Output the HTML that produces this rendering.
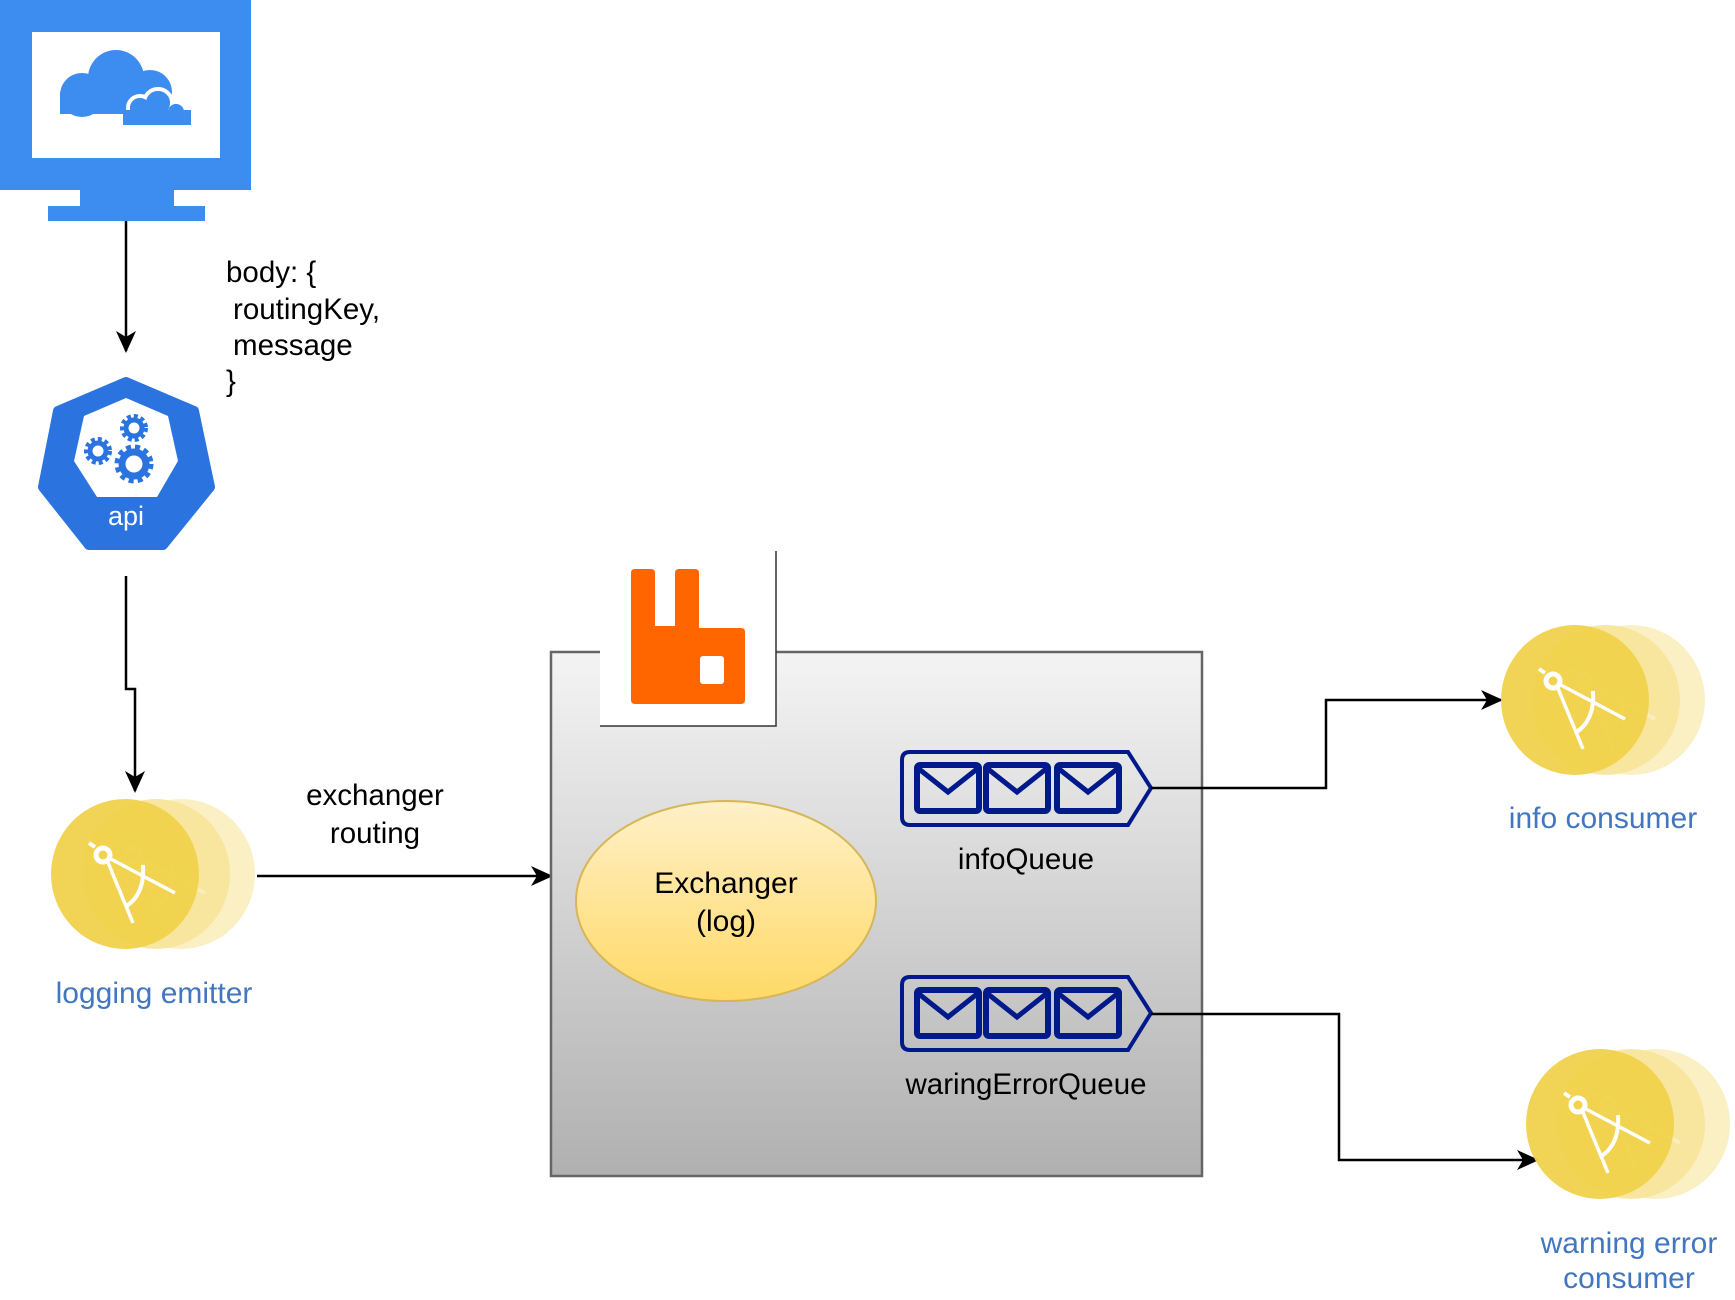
<!DOCTYPE html>
<html><head><meta charset="utf-8"><style>
html,body{margin:0;padding:0;background:#fff;}
svg{display:block;font-family:"Liberation Sans",Arial,sans-serif;}
</style></head><body>
<svg width="1735" height="1300" viewBox="0 0 1735 1300" xmlns="http://www.w3.org/2000/svg">
<defs>
<linearGradient id="boxg" x1="0" y1="0" x2="0" y2="1"><stop offset="0" stop-color="#f4f4f4"/><stop offset="1" stop-color="#b0b0b0"/></linearGradient>
<linearGradient id="ellg" x1="0" y1="0" x2="0" y2="1"><stop offset="0" stop-color="#fff0c8"/><stop offset="1" stop-color="#ffd966"/></linearGradient>
<marker id="ah" markerWidth="22" markerHeight="20" refX="20" refY="10" orient="auto" markerUnits="userSpaceOnUse"><path d="M0,0 L22,10 L0,20 L6,10 Z" fill="#000"/></marker>
<g id="comp">
  <circle cx="0" cy="0" r="7" fill="none" stroke="#fff" stroke-width="5"/>
  <line x1="-8" y1="-8" x2="-14" y2="-12" stroke="#fff" stroke-width="4"/>
  <line x1="4" y1="5" x2="30" y2="68" stroke="#fff" stroke-width="3.5"/>
  <line x1="6" y1="3" x2="72" y2="38" stroke="#fff" stroke-width="3.5"/>
  <path d="M40,10 Q42,40 22,52" fill="none" stroke="#fff" stroke-width="4"/>
</g>
<g id="cons">
  <ellipse cx="56" cy="0" rx="74" ry="75" fill="#faf0c4"/>
  <ellipse cx="31" cy="0" rx="74" ry="75" fill="#f7e49a" opacity="0.9"/>
  <use href="#comp" x="8" y="-19" opacity="0.35"/>
  <ellipse cx="0" cy="0" rx="74" ry="75" fill="#f0d24c" opacity="0.95"/>
  <use href="#comp" x="-22" y="-19"/>
</g>
<g id="env"><rect x="0" y="0" width="62" height="46" rx="3" fill="none" stroke="#001a8c" stroke-width="6"/><path d="M2,4 L31,27 L60,4" fill="none" stroke="#001a8c" stroke-width="5"/></g>
<g id="queue">
  <path d="M8,0 L226,0 L249,36 L226,73 L8,73 Q0,73 0,65 L0,8 Q0,0 8,0 Z" fill="none" stroke="#001a8c" stroke-width="4"/>
  <use href="#env" x="15" y="13"/><use href="#env" x="84" y="13"/><use href="#env" x="155" y="13"/>
</g>
</defs>

<!-- monitor -->
<rect x="0" y="0" width="251" height="190" fill="#3d8df0"/>
<rect x="32" y="32" width="188" height="126" fill="#fff"/>
<rect x="80" y="189" width="94" height="18" fill="#3d8df0"/>
<rect x="48" y="206" width="157" height="15" fill="#3d8df0"/>
<g fill="#3d8df0">
  <circle cx="82" cy="95" r="22"/><circle cx="116" cy="78" r="28"/><circle cx="150" cy="92" r="22"/><rect x="60" y="92" width="105" height="22"/>
</g>
<g fill="#3d8df0" stroke="#fff" stroke-width="4">
  <circle cx="140" cy="108" r="12"/><circle cx="158" cy="103" r="14"/><circle cx="176" cy="112" r="10"/>
</g>
<g fill="#3d8df0"><circle cx="140" cy="108" r="10"/><circle cx="158" cy="103" r="12"/><circle cx="176" cy="112" r="8"/><rect x="123" y="110" width="68" height="15"/></g>

<!-- arrow monitor->api -->
<line x1="126" y1="221" x2="126" y2="351" stroke="#000" stroke-width="2.5" marker-end="url(#ah)"/>
<g font-size="29.5" fill="#000">
<text x="226" y="282">body: {</text>
<text x="233" y="319">routingKey,</text>
<text x="233" y="355">message</text>
<text x="226" y="391">}</text>
</g>

<!-- api heptagon -->
<polygon points="126,382 194,411 210,487 163,545 89,545 43,487 58,411" fill="#2b74e0" stroke="#2b74e0" stroke-width="10" stroke-linejoin="round"/>
<polygon points="126,398 168,416 178,461 157,497 97,497 74,461 84,416" fill="#fff"/>
<g fill="none" stroke="#2b74e0">
  <circle cx="134" cy="464" r="12" stroke-width="7"/><circle cx="134" cy="464" r="17" stroke-width="5" stroke-dasharray="5 4"/>
  <circle cx="98" cy="451" r="8" stroke-width="5"/><circle cx="98" cy="451" r="12" stroke-width="4" stroke-dasharray="4 3"/>
  <circle cx="134" cy="428" r="8" stroke-width="5"/><circle cx="134" cy="428" r="12" stroke-width="4" stroke-dasharray="4 3"/>
</g>
<text x="126" y="525" font-size="27" fill="#fff" text-anchor="middle">api</text>

<!-- api -> emitter -->
<polyline points="126,576 126,689 135,689 135,791" fill="none" stroke="#000" stroke-width="2.5" marker-end="url(#ah)"/>

<!-- emitter -->
<use href="#cons" x="125" y="874"/>
<text x="154" y="1003" font-size="30" fill="#4277c0" text-anchor="middle">logging emitter</text>

<!-- emitter -> box -->
<line x1="257" y1="876" x2="551" y2="876" stroke="#000" stroke-width="2.5" marker-end="url(#ah)"/>
<text x="375" y="805" font-size="29.5" text-anchor="middle">exchanger</text>
<text x="375" y="843" font-size="29.5" text-anchor="middle">routing</text>

<!-- box -->
<rect x="551" y="652" width="651" height="524" fill="url(#boxg)" stroke="#666" stroke-width="2.5"/>
<rect x="600" y="551" width="176" height="175" fill="#fff"/>
<polyline points="776,551 776,726 600,726" fill="none" stroke="#333" stroke-width="1.5"/>
<path d="M635,569 H651 Q655,569 655,573 V626 H675 V573 Q675,569 679,569 H695 Q699,569 699,573 V628 H741 Q745,628 745,632 V700 Q745,704 741,704 H635 Q631,704 631,700 V573 Q631,569 635,569 Z" fill="#ff6600"/>
<rect x="700" y="656" width="24" height="28" rx="3" fill="#fff"/>

<ellipse cx="726" cy="901" rx="150" ry="100" fill="url(#ellg)" stroke="#d6b656" stroke-width="2"/>
<text x="726" y="893" font-size="30" text-anchor="middle">Exchanger</text>
<text x="726" y="931" font-size="30" text-anchor="middle">(log)</text>

<use href="#queue" x="902" y="752"/>
<text x="1026" y="869" font-size="29.5" text-anchor="middle">infoQueue</text>
<use href="#queue" x="902" y="977"/>
<text x="1026" y="1094" font-size="29.5" text-anchor="middle">waringErrorQueue</text>

<!-- queue connectors -->
<polyline points="1151,788 1326,788 1326,700 1501,700" fill="none" stroke="#000" stroke-width="2.5" marker-end="url(#ah)"/>
<polyline points="1151,1014 1339,1014 1339,1160 1537,1160" fill="none" stroke="#000" stroke-width="2.5" marker-end="url(#ah)"/>

<use href="#cons" x="1575" y="700"/>
<text x="1603" y="828" font-size="30" fill="#4277c0" text-anchor="middle">info consumer</text>
<use href="#cons" x="1600" y="1124"/>
<text x="1629" y="1253" font-size="30" fill="#4277c0" text-anchor="middle">warning error</text>
<text x="1629" y="1288" font-size="30" fill="#4277c0" text-anchor="middle">consumer</text>
</svg>
</body></html>
